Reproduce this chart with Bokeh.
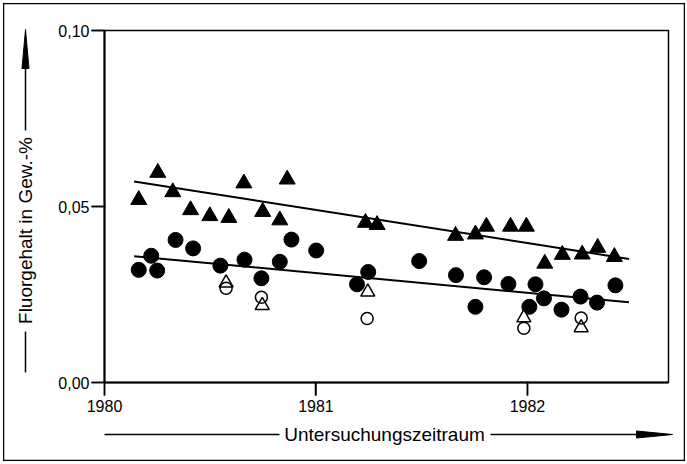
from bokeh.plotting import figure
from bokeh.models import Range1d, FixedTicker, Label, BoxAnnotation
from bokeh.embed import file_html
from bokeh.resources import INLINE

# filled triangles
tri_x = [1980.162, 1980.252, 1980.323, 1980.407, 1980.498, 1980.588, 1980.659, 1980.748,
         1980.829, 1980.864, 1981.234, 1981.289, 1981.660, 1981.754, 1981.806, 1981.920,
         1981.995, 1982.082, 1982.165, 1982.259, 1982.332, 1982.411]
tri_y = [0.0519, 0.0596, 0.0541, 0.0490, 0.0473, 0.0468, 0.0566, 0.0485,
         0.0461, 0.0577, 0.0454, 0.0448, 0.0417, 0.0421, 0.0443, 0.0443,
         0.0443, 0.0338, 0.0363, 0.0364, 0.0383, 0.0357]
# filled circles
circ_x = [1980.162, 1980.221, 1980.249, 1980.336, 1980.419, 1980.548, 1980.662, 1980.742,
          1980.829, 1980.884, 1981.001, 1981.194, 1981.247, 1981.488, 1981.662, 1981.754,
          1981.795, 1981.910, 1982.009, 1982.038, 1982.078, 1982.161, 1982.251, 1982.329,
          1982.416]
circ_y = [0.0320, 0.0360, 0.0318, 0.0405, 0.0381, 0.0332, 0.0349, 0.0296,
          0.0343, 0.0406, 0.0375, 0.0279, 0.0314, 0.0345, 0.0305, 0.0215,
          0.0299, 0.0280, 0.0215, 0.0279, 0.0239, 0.0207, 0.0244, 0.0227,
          0.0276]
# open circles
ocirc_x = [1980.575, 1980.742, 1981.242, 1981.983, 1982.254]
ocirc_y = [0.0268, 0.0242, 0.0182, 0.0154, 0.0183]
# open triangles
otri_x = [1980.575, 1980.746, 1981.245, 1981.983, 1982.254]
otri_y = [0.0283, 0.0219, 0.0257, 0.0184, 0.0156]
# regression lines
trend_x = [1980.14, 1982.48]
trend_tri = [0.0571, 0.0351]
trend_circ = [0.0359, 0.0228]

x_ticks = [1980, 1981, 1982]
x_tick_labels = ["1980", "1981", "1982"]
y_ticks = [0.0, 0.05, 0.10]
y_tick_labels = ["0,00", "0,05", "0,10"]
x_label = "Untersuchungszeitraum"
y_label = "Fluorgehalt in Gew.-%"

FONT = "Liberation Sans"
X0, X1 = 1980, 1982.667      # plot box extent
Y0, Y1 = 0.0, 0.1
BOX_W, BOX_H = 564, 352      # plot box size in px
CANVAS_W, CANVAS_H = 682, 458
OFF = 3                      # page offset of the canvas
BOX_L, BOX_T = 104, 30       # plot box left/top in page px
TICK = 13                    # tick length in px

SX = BOX_W / (X1 - X0)
SY = BOX_H / (Y1 - Y0)
xs0 = X0 - (BOX_L - OFF) / SX
xs1 = xs0 + CANVAS_W / SX
ys1 = Y1 + (BOX_T - OFF) / SY
ys0 = ys1 - CANVAS_H / SY

def xd(a):
    return xs0 + (a - OFF) / SX

def yd(a):
    return ys1 - (a - OFF) / SY

p = figure(frame_width=CANVAS_W, frame_height=CANVAS_H, title=None,
           x_range=Range1d(xs0, xs1), y_range=Range1d(ys0, ys1),
           output_backend="svg", toolbar_location=None, min_border=0)
p.styles = {"margin-left": f"{OFF}px", "margin-top": f"{OFF}px"}
p.grid.visible = False
# canvas outline acts as the outer border of the drawing
p.outline_line_color = "black"
p.outline_line_width = 1.5
p.outline_line_alpha = 1.0

p.xaxis.fixed_location = Y0
p.yaxis.fixed_location = X0
p.xaxis.bounds = (X0, X1)
p.yaxis.bounds = (Y0, Y1)
p.axis.axis_line_width = 2
p.axis.axis_line_color = "black"
p.axis.major_tick_line_width = 1.5
p.axis.major_tick_out = TICK
p.axis.major_tick_in = 1
p.axis.minor_tick_out = 0
p.axis.minor_tick_in = 0
p.axis.major_label_text_font = FONT
p.axis.major_label_text_font_size = "16px"
p.axis.major_label_text_color = "black"

p.xaxis.ticker = FixedTicker(ticks=x_ticks)
p.xaxis.major_label_overrides = dict(zip(x_ticks, x_tick_labels))
p.xaxis.major_label_standoff = 4
p.yaxis.ticker = FixedTicker(ticks=y_ticks)
p.yaxis.major_label_overrides = dict(zip(y_ticks, y_tick_labels))
p.yaxis.major_label_standoff = 2

# plot box (top and right edges)
p.add_layout(BoxAnnotation(left=X0, right=X1, bottom=Y0, top=Y1, fill_alpha=0,
                           line_color="black", line_width=1.5, line_alpha=1))

# tick marks at the tick positions (outward)
p.segment(x0=[X0] * len(y_ticks), y0=y_ticks, x1=[X0 - TICK / SX] * len(y_ticks), y1=y_ticks,
          line_width=1.5, line_color="black")
p.segment(x0=x_ticks, y0=[Y0] * len(x_ticks), x1=x_ticks, y1=[Y0 - TICK / SY] * len(x_ticks),
          line_width=1.5, line_color="black")

p.line(trend_x, trend_tri, line_width=2, color="black")
p.line(trend_x, trend_circ, line_width=2, color="black")
p.scatter(tri_x, tri_y, marker="triangle", size=16, fill_color="black", line_color="black")
p.scatter(circ_x, circ_y, marker="circle", size=15, fill_color="black", line_color="black")
p.scatter(otri_x, otri_y, marker="triangle", size=14, fill_color="white", line_color="black", line_width=1.5)
p.scatter(ocirc_x, ocirc_y, marker="circle", size=12, fill_color=None, line_color="black", line_width=1.5)

# x-axis title with arrow
XL_Y = 434
p.add_layout(Label(x=xd(384), y=yd(XL_Y), text=x_label,
                   text_font=FONT, text_font_size="19px", text_align="center",
                   text_baseline="middle", text_color="black"))
# y-axis title with arrow
YL_X = 25
p.add_layout(Label(x=xd(YL_X), y=yd(230), text=y_label,
                   text_font=FONT, text_font_size="19px", text_align="center", angle=1.5707963,
                   text_baseline="middle", text_color="black"))

p.segment(x0=[xd(104), xd(490), xd(YL_X), xd(YL_X)],
          y0=[yd(XL_Y), yd(XL_Y), yd(372), yd(130)],
          x1=[xd(279), xd(645), xd(YL_X), xd(YL_X)],
          y1=[yd(XL_Y), yd(XL_Y), yd(331), yd(64)],
          line_width=1.5, line_color="black")
p.patches(xs=[[xd(636), xd(672), xd(636)], [xd(YL_X - 3.5), xd(YL_X), xd(YL_X + 3.5)]],
          ys=[[yd(XL_Y - 3.5), yd(XL_Y), yd(XL_Y + 3.5)], [yd(68), yd(29), yd(68)]],
          fill_color="black", line_color="black", line_width=1)

open("out.html", "w").write(file_html(p, INLINE))
